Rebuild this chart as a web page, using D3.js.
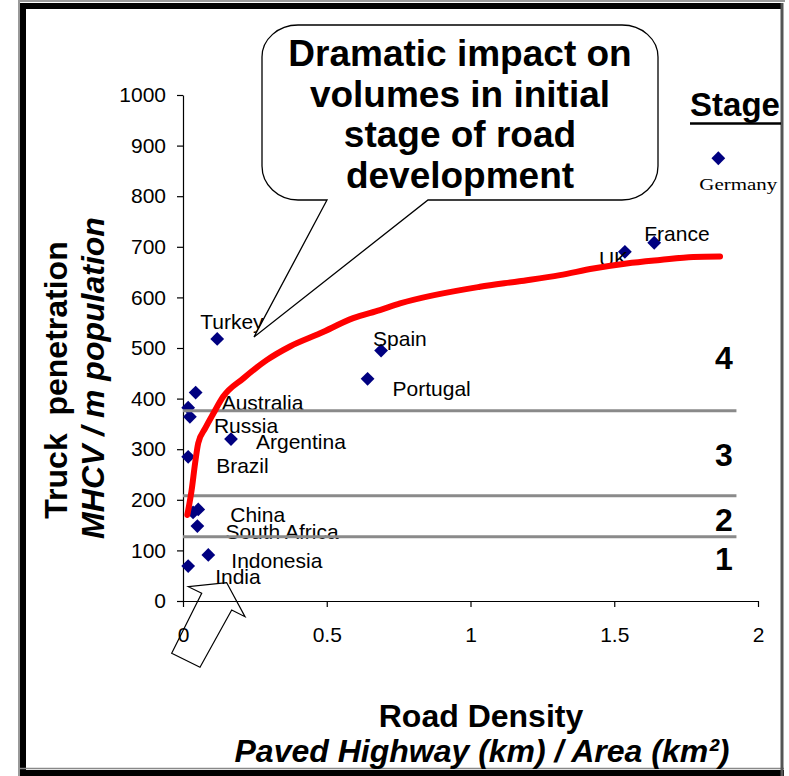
<!DOCTYPE html>
<html>
<head>
<meta charset="utf-8">
<script src="https://cdn.jsdelivr.net/npm/d3@7/dist/d3.min.js"></script>
<style>
  html, body { margin: 0; padding: 0; background: #fff; }
  svg { display: block; font-family: "Liberation Sans", Arial, sans-serif; }
</style>
</head>
<body>
<svg id="chart" width="789" height="776"></svg>
<script>
// Countries: road density (km paved highway per km² of area) vs trucks per million people
const countries = ["Turkey", "Australia", "", "Russia", "Argentina", "Brazil", "China", "",
  "South Africa", "Indonesia", "India", "Portugal", "Spain", "UK", "France", "Germany"];
const roadDensity = [0.119, 0.044, 0.018, 0.024, 0.167, 0.018, 0.053, 0.035,
  0.050, 0.088, 0.018, 0.642, 0.689, 1.537, 1.639, 1.862];
const truckPenetration = [518, 412, 382, 364, 320, 285, 181, 175,
  148, 91, 69, 439, 495, 690, 708, 875];

// Fitted trend line
const trendX = [0.015, 0.030, 0.042, 0.053, 0.077, 0.106, 0.140, 0.210, 0.291, 0.372,
  0.477, 0.592, 0.685, 0.755, 1.033, 1.170, 1.311, 1.427, 1.543, 1.659, 1.775, 1.868];
const trendY = [170, 219, 272, 312, 341, 371, 404, 440, 476, 503,
  529, 559, 575, 588, 621, 632, 644, 657, 667, 674, 680, 681];

// Stage boundaries (trucks per million people)
const stageBounds = [127, 208, 376];
const stageNames = ["1", "2", "3", "4"];
const stageEndX = 1.925;

const xTicks = [0, 0.5, 1, 1.5, 2];
const yTicks = [0, 100, 200, 300, 400, 500, 600, 700, 800, 900, 1000];

const calloutLines = ["Dramatic impact on", "volumes in initial", "stage of road", "development"];

// Layout
const plot = { left: 183, right: 758, top: 95, bottom: 601 };
const labelOffset = {
  "Turkey": [-17, -10], "Australia": [26, 17], "Russia": [24, 16], "Argentina": [25, 10],
  "Brazil": [28, 16], "China": [32, 13], "South Africa": [28, 13], "Indonesia": [23, 13],
  "India": [27, 18], "Portugal": [25, 17], "Spain": [-8, -5], "UK": [-26, 14],
  "France": [-10, -2], "Germany": [-19, 32]
};
const stageLabelY = [570, 531, 466, 369];

const svg = d3.select("#chart");

const x = d3.scaleLinear().domain([0, 2]).range([plot.left, plot.right]);
const y = d3.scaleLinear().domain([0, 1000]).range([plot.bottom, plot.top]);

// Frame
svg.append("rect").attr("x", 0).attr("y", 0).attr("width", 789).attr("height", 776).attr("fill", "#fff");
svg.append("line").attr("x1", 18).attr("x2", 785).attr("y1", 1).attr("y2", 1).attr("stroke", "#999").attr("stroke-width", 2);
svg.append("line").attr("x1", 19).attr("x2", 19).attr("y1", 0).attr("y2", 776).attr("stroke", "#999").attr("stroke-width", 2);
svg.append("line").attr("x1", 23).attr("x2", 23).attr("y1", 3).attr("y2", 776).attr("stroke", "#000").attr("stroke-width", 6);
svg.append("line").attr("x1", 20).attr("x2", 783).attr("y1", 6).attr("y2", 6).attr("stroke", "#000").attr("stroke-width", 6);
svg.append("line").attr("x1", 20).attr("x2", 784).attr("y1", 773).attr("y2", 773).attr("stroke", "#000").attr("stroke-width", 6);
svg.append("line").attr("x1", 20).attr("x2", 784).attr("y1", 768.5).attr("y2", 768.5).attr("stroke", "#888").attr("stroke-width", 1.5);
svg.append("line").attr("x1", 782).attr("x2", 782).attr("y1", 3).attr("y2", 776).attr("stroke", "#555").attr("stroke-width", 3);

// Axes
const xAxis = d3.axisBottom(x).tickValues(xTicks).tickSize(6).tickSizeOuter(0).tickPadding(20)
  .tickFormat(d3.format(""));
const yAxis = d3.axisLeft(y).tickValues(yTicks).tickSize(6).tickSizeOuter(0).tickPadding(11)
  .tickFormat(d3.format("d"));

const gx = svg.append("g").attr("transform", `translate(0,${plot.bottom})`).call(xAxis);
const gy = svg.append("g").attr("transform", `translate(${plot.left},0)`).call(yAxis);
[gx, gy].forEach(g => {
  g.attr("font-family", "'Liberation Sans', Arial, sans-serif").attr("font-size", 21);
  g.select(".domain").attr("stroke", "#000").attr("stroke-width", 1.2);
  g.selectAll(".tick line").attr("stroke", "#000").attr("stroke-width", 1.2);
  g.selectAll(".tick text").attr("fill", "#000").attr("font-size", 21);
});

// Country markers
const pts = roadDensity.map((v, i) => ({ x: v, y: truckPenetration[i], name: countries[i] }));
const diamond = d3.symbol().type(d3.symbolSquare).size(95);
svg.append("g").selectAll("path").data(pts).join("path")
  .attr("d", diamond)
  .attr("transform", d => `translate(${x(d.x)},${y(d.y)}) rotate(45)`)
  .attr("fill", "#000080");

// Country labels
svg.append("g").selectAll("text").data(pts.filter(d => d.name)).join("text")
  .attr("x", d => x(d.x) + labelOffset[d.name][0])
  .attr("y", d => y(d.y) + labelOffset[d.name][1])
  .attr("font-size", d => d.name === "Germany" ? 17 : 21)
  .attr("font-family", d => d.name === "Germany" ? "'Liberation Serif', 'Times New Roman', serif" : null)
  .attr("textLength", d => d.name === "Germany" ? 78 : null)
  .attr("lengthAdjust", d => d.name === "Germany" ? "spacingAndGlyphs" : null)
  .attr("fill", "#000")
  .text(d => d.name);

// Stage boundary lines
svg.append("g").selectAll("line").data(stageBounds).join("line")
  .attr("x1", x(0)).attr("x2", x(stageEndX))
  .attr("y1", d => y(d)).attr("y2", d => y(d))
  .attr("stroke", "#8a8a8a").attr("stroke-width", 3);

// Trend line
const trend = trendX.map((v, i) => [v, trendY[i]]);
svg.append("path").datum(trend)
  .attr("d", d3.line().x(d => x(d[0])).y(d => y(d[1])).curve(d3.curveMonotoneX))
  .attr("fill", "none").attr("stroke", "#ff0000").attr("stroke-width", 6)
  .attr("stroke-linecap", "round").attr("stroke-linejoin", "round");

// Stage numbers
svg.append("g").selectAll("text").data(stageNames).join("text")
  .attr("x", 724).attr("y", (d, i) => stageLabelY[i])
  .attr("text-anchor", "middle").attr("font-size", 32).attr("font-weight", "bold")
  .text(d => d);

svg.append("text").attr("x", 735).attr("y", 116).attr("text-anchor", "middle")
  .attr("font-size", 33).attr("font-weight", "bold").text("Stage");
svg.append("line").attr("x1", 690).attr("x2", 781).attr("y1", 123.5).attr("y2", 123.5)
  .attr("stroke", "#000").attr("stroke-width", 2.5);

// Axis titles
svg.append("text").attr("transform", "translate(67,380) rotate(-90)")
  .attr("text-anchor", "middle").attr("font-size", 32).attr("font-weight", "bold")
  .attr("xml:space", "preserve").style("white-space", "pre")
  .text("Truck  penetration");
svg.append("text").attr("transform", "translate(104,378) rotate(-90)")
  .attr("text-anchor", "middle").attr("font-size", 32).attr("font-weight", "bold")
  .attr("font-style", "italic").text("MHCV / m population");
svg.append("text").attr("x", 481).attr("y", 727)
  .attr("text-anchor", "middle").attr("font-size", 32).attr("font-weight", "bold")
  .text("Road Density");
svg.append("text").attr("x", 482).attr("y", 762)
  .attr("text-anchor", "middle").attr("font-size", 32).attr("font-weight", "bold")
  .attr("font-style", "italic").text("Paved Highway (km) / Area (km²)");

// Callout bubble
const bubble = "M298,25 H622 A36,32 0 0 1 658,57 V166 A36,34 0 0 1 622,200 H428 L254,337 L327,200 H298 A36,34 0 0 1 262,166 V57 A36,32 0 0 1 298,25 Z";
svg.append("path").attr("d", bubble).attr("fill", "#fff").attr("stroke", "#000").attr("stroke-width", 1.3);
svg.append("g").selectAll("text").data(calloutLines).join("text")
  .attr("x", 460).attr("y", (d, i) => 66 + i * 40.5)
  .attr("text-anchor", "middle").attr("font-size", 37).attr("font-weight", "bold")
  .text(d => d);

// Block arrow pointing at the low-density countries
const arrow = [[226.7, 582.7], [245, 616.7], [231.7, 610], [200, 667.3], [171.7, 653.3], [201.7, 593.3], [188.3, 586.7]];
svg.append("path").attr("d", d3.line()(arrow) + "Z")
  .attr("fill", "none").attr("stroke", "#000").attr("stroke-width", 1.2);
</script>
</body>
</html>
